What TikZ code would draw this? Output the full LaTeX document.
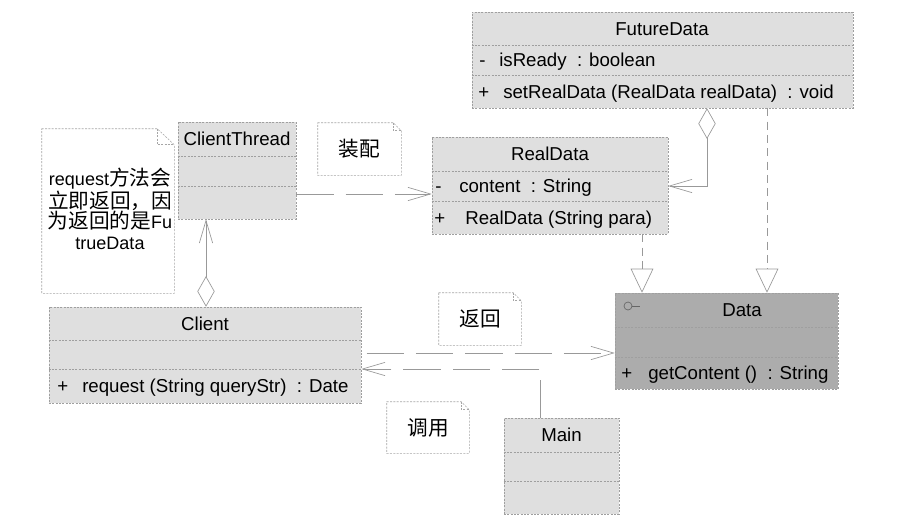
\documentclass[tikz,border=0pt]{standalone}
\usepackage{fontspec}
\setmainfont{Liberation Sans}
\newfontfamily\cjk{Noto Sans CJK SC}
\usetikzlibrary{arrows.meta,fit}
\newcommand\cjkbig{\cjk\fontsize{15.5}{15.4}\selectfont}
\tikzset{
  cls/.style={draw=gray!75, fill=gray!25, dash pattern=on 1.5pt off 1pt, line width=0.4pt, inner sep=0pt},
  dcls/.style={cls, fill=gray!65},
  sepline/.style={draw=gray!75, dash pattern=on 1.5pt off 1pt, line width=0.4pt},
  notebox/.style={inner sep=0pt},
  notebd/.style={draw=gray!70, fill=white, dash pattern=on 1.5pt off 1pt, line width=0.4pt},
  txt/.style={font=\fontsize{14}{16}\selectfont, inner sep=0pt, text height=9.8pt, text depth=0pt},
  lt/.style={txt, anchor=west},
  ct/.style={txt, anchor=center},
  cjknote/.style={font=\cjkbig, inner sep=0pt, anchor=center},
  conn/.style={draw=gray!80, line width=0.5pt},
  hdash/.style={conn, dash pattern=on 28pt off 9pt},
  vdash/.style={conn, dash pattern=on 6pt off 4pt},
  barb/.style={-{Straight Barb[length=17pt,width=10pt]}},
  tri/.style={-{Triangle[open,length=18pt,width=17pt]}},
  agg/.style={{Diamond[open,length=23pt,width=13pt]}-{Straight Barb[length=17pt,width=10pt]}}
}
\begin{document}
\begin{tikzpicture}[x=0.75pt,y=-0.75pt]
\fill[white] (0,0) rectangle (902,526);
\useasboundingbox (0,0) rectangle (902,526);

% ---------- FutureData ----------
\node[cls, fit={(472,12)(853,108)}] (FD) {};
\draw[sepline] (FD.west |- 0,45) -- (FD.east |- 0,45);
\draw[sepline] (FD.west |- 0,75) -- (FD.east |- 0,75);
\node[ct] (FDt) at (662,28.5) {FutureData};
\node[lt] (FDam) at (479,60) {-};
\node[lt] (FDa) at (499,60) {isReady\ \ : boolean};
\node[lt] (FDom) at (478,91.5) {+};
\node[lt] (FDo) at (503,91.5) {setRealData (RealData realData)\ \ : void};

% ---------- RealData ----------
\node[cls, fit={(432,137)(668,234)}] (RD) {};
\draw[sepline] (RD.west |- 0,171) -- (RD.east |- 0,171);
\draw[sepline] (RD.west |- 0,201) -- (RD.east |- 0,201);
\node[ct] (RDt) at (550,154) {RealData};
\node[lt] (RDam) at (435,186) {-};
\node[lt] (RDa) at (459,186) {content\ \ : String};
\node[lt] (RDom) at (434,217.5) {+};
\node[lt] (RDo) at (465,217.5) {RealData (String para)};

% ---------- ClientThread ----------
\node[cls, fit={(178,122)(296,219)}] (CT) {};
\draw[sepline] (CT.west |- 0,156) -- (CT.east |- 0,156);
\draw[sepline] (CT.west |- 0,186) -- (CT.east |- 0,186);
\node[ct] (CTt) at (237,139) {ClientThread};

% ---------- Client ----------
\node[cls, fit={(49,307)(361,403)}] (CL) {};
\draw[sepline] (CL.west |- 0,340) -- (CL.east |- 0,340);
\draw[sepline] (CL.west |- 0,369) -- (CL.east |- 0,369);
\node[ct] (CLt) at (205,323.5) {Client};
\node[lt] (CLom) at (57,386) {+};
\node[lt] (CLo) at (82,386) {request (String queryStr)\ \ : Date};

% ---------- Data ----------
\node[dcls, fit={(615,293)(838,389)}] (DA) {};
\draw[sepline] (DA.west |- 0,327) -- (DA.east |- 0,327);
\draw[sepline] (DA.west |- 0,357) -- (DA.east |- 0,357);
\node[ct] (DAt) at (742,310) {Data};
\node[circle, draw=gray!80!black, line width=0.5pt, inner sep=0pt, minimum size=6pt] (DAi) at (628,306) {};
\draw[draw=gray!80!black, line width=0.5pt] (DAi.east) -- ++(8,0);
\node[lt] (DAom) at (621,373) {+};
\node[lt] (DAo) at (648,373) {getContent ()\ \ : String};

% ---------- Main ----------
\node[cls, fit={(504,418)(619,514)}] (MA) {};
\draw[sepline] (MA.west |- 0,452) -- (MA.east |- 0,452);
\draw[sepline] (MA.west |- 0,481) -- (MA.east |- 0,481);
\node[ct] (MAt) at (561.5,435) {Main};

% ---------- Notes ----------
\node[notebox, fit={(42,129)(174,293)}] (N1) {};
\draw[notebd] (N1.north west) -- ([xshift=-12.75pt]N1.north east) -- ([yshift=-12pt]N1.north east) -- (N1.south east) -- (N1.south west) -- cycle;
\draw[notebd, fill=none] ([xshift=-12.75pt]N1.north east) |- ([yshift=-12pt]N1.north east);
\node[align=center, inner sep=0pt, font=\fontsize{13.5}{15.4}\selectfont] (N1t) at (110,209)
  {request{\cjkbig 方法会}\\{\cjkbig 立即返回，因}\\{\cjkbig 为返回的是}Fu\\trueData};

\node[notebox, fit={(318,123)(401,175)}] (N2) {};
\draw[notebd] (N2.north west) -- ([xshift=-6pt]N2.north east) -- ([yshift=-6pt]N2.north east) -- (N2.south east) -- (N2.south west) -- cycle;
\draw[notebd, fill=none] ([xshift=-6pt]N2.north east) |- ([yshift=-6pt]N2.north east);
\node[cjknote] (N2t) at (N2.center) {装配};

\node[notebox, fit={(439,293)(521,345)}] (N3) {};
\draw[notebd] (N3.north west) -- ([xshift=-6pt]N3.north east) -- ([yshift=-6pt]N3.north east) -- (N3.south east) -- (N3.south west) -- cycle;
\draw[notebd, fill=none] ([xshift=-6pt]N3.north east) |- ([yshift=-6pt]N3.north east);
\node[cjknote] (N3t) at (N3.center) {返回};

\node[notebox, fit={(387,402)(469,453)}] (N4) {};
\draw[notebd] (N4.north west) -- ([xshift=-6pt]N4.north east) -- ([yshift=-6pt]N4.north east) -- (N4.south east) -- (N4.south west) -- cycle;
\draw[notebd, fill=none] ([xshift=-6pt]N4.north east) |- ([yshift=-6pt]N4.north east);
\node[cjknote] (N4t) at (N4.center) {调用};

% ---------- Connectors ----------
\draw[hdash, barb] (CT.east |- 0,194) -- (RD.west |- 0,194);
\draw[conn, agg] (FD.south -| 707,0) |- (RD.east |- 0,186);
\draw[vdash, tri] (FD.south -| 767,0) -- (DA.north -| 767,0);
\draw[vdash, tri] (RD.south -| 642,0) -- (DA.north -| 642,0);
\draw[conn, agg] (CL.north -| 206,0) -- (CT.south -| 206,0);
\draw[hdash, barb] ([xshift=4pt]CL.east |- 0,353) -- (DA.west |- 0,353);
\draw[hdash, barb] (MA.north -| 540,0) |- (CL.east |- 0,369);
\end{tikzpicture}
\end{document}
